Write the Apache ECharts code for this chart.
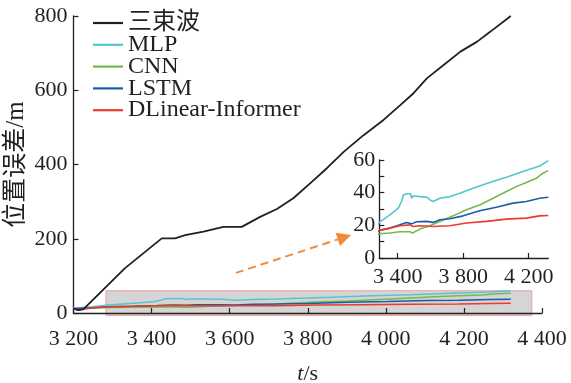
<!DOCTYPE html>
<html><head><meta charset="utf-8">
<script src="https://cdn.jsdelivr.net/npm/echarts@6/dist/echarts.min.js"></script>
<style>html,body{margin:0;padding:0;background:#fff}#c{width:571px;height:383px}</style>
</head><body><div id="c"></div>
<script>
// ---- data ----
const seriesNames = ['三束波', 'MLP', 'CNN', 'LSTM', 'DLinear-Informer'];
const blackT = [3200,3212,3225,3332,3426,3460,3486,3533,3584,3631,3678,3721,3763,3806,3849,3892,3943,3994,4037,4071,4105,4148,4191,4234,4268,4320];
const blackV = [12,8,10,121,201,201,210,219,232,232,259,280,309,349,390,434,479,520,560,592,632,668,704,731,758,800];
const mlpT = [3200,3250,3288,3353,3404,3424,3435,3455,3479,3485,3495,3536,3581,3597,3617,3658,3719,3780,3861,3962,4064,4165,4267,4320];
const mlpV = [13,17,21.8,26.4,30.5,34.6,38.6,39.3,39.3,36.6,38.0,37.6,37.2,35.6,34.6,36.6,37.6,39.7,42.7,46.2,49.4,52.9,56.3,59.6];
const cnnT = [3200,3250,3288,3353,3414,3475,3491,3536,3597,3658,3739,3820,3901,3983,4064,4125,4186,4247,4287,4320];
const cnnV = [11,13,14.8,15.3,16.1,16.1,15.3,17.7,19.7,22.4,25.8,29.5,32.5,36.6,40.7,43.7,46.2,48.8,51.9,53.5];
const lstmT = [3200,3250,3288,3353,3414,3455,3485,3516,3577,3617,3658,3719,3800,3901,4003,4105,4186,4267,4320];
const lstmV = [12,14,16.9,18.3,20.3,21.8,20.9,22.2,22.4,21.8,23.4,24.0,25.8,28.9,31.1,33.6,34.6,36.6,37.2];
const dliT = [3200,3212,3250,3288,3353,3414,3475,3495,3536,3617,3719,3820,3942,4064,4186,4267,4320];
const dliV = [12,9,14,16.9,18.3,19.7,20.3,19.3,19.7,19.3,19.7,21.4,22.4,23.8,24.4,25.8,26.0];
const mainXTicks = [3200, 4400, 200];
const mainYTicks = [0, 800, 200];
const insetXLabels = [3400, 3800, 4200];
const insetYTicks = [0,10,20,30,40,50,60];
const insetYLabels = [0,20,40,60];
// zoom box & arrow (data coords of main axes)
const boxCorners = [[3283, 60], [4374, -7]];
const arrowEnds = [[3616, 108], [3911, 210]];

// ---- chart ----
const pair = (t, v) => t.map((x, i) => [x, v[i]]);
const colors = ['#231f20', '#56c5d0', '#77b94a', '#1a5cab', '#ee3a2c'];
const dataSets = [pair(blackT, blackV), pair(mlpT, mlpV), pair(cnnT, cnnV), pair(lstmT, lstmV), pair(dliT, dliV)];
const FONT = '"Liberation Serif", "Noto Sans CJK SC", serif';
const fmt = v => { const s = String(v); return s.length > 3 ? s.slice(0, s.length - 3) + ' ' + s.slice(-3) : s; };

const series = [];
seriesNames.forEach((n, i) => {
  series.push({ name: n, type: 'line', xAxisIndex: 0, yAxisIndex: 0, data: dataSets[i], symbol: 'none',
    lineStyle: { color: colors[i], width: i === 0 ? 1.8 : 1.5 }, itemStyle: { color: colors[i] }, z: i === 0 ? 3 : 2 });
});
seriesNames.slice(1).forEach((n, j) => {
  const i = j + 1;
  series.push({ name: n, type: 'line', xAxisIndex: 1, yAxisIndex: 1, data: dataSets[i], symbol: 'none', clip: true,
    lineStyle: { color: colors[i], width: 1.6 }, itemStyle: { color: colors[i] } });
});

const axisCommon = {
  axisLine: { lineStyle: { color: '#231f20', width: 1.3 } },
  axisTick: { inside: true, length: 5, lineStyle: { color: '#231f20', width: 1.2 } },
  splitLine: { show: false },
};

const chart = echarts.init(document.getElementById('c'));
chart.setOption({
  animation: false,
  textStyle: { fontFamily: FONT },
  legend: {
    data: seriesNames, orient: 'vertical', left: 93, top: 11, padding: 0, itemWidth: 30, itemHeight: 2.2, itemGap: -2.2,
    textStyle: { fontFamily: FONT, fontSize: 24, color: '#231f20', lineHeight: 21 },
    icon: 'rect',
  },
  grid: [
    { left: 73.5, right: 29, top: 16, bottom: 70, outerBoundsMode: 'none', containLabel: false },
    { left: 379.3, right: 22.7, top: 160, bottom: 125, outerBoundsMode: 'none', containLabel: false },
  ],
  xAxis: [
    Object.assign({}, axisCommon, { type: 'value', gridIndex: 0, min: mainXTicks[0], max: mainXTicks[1], interval: mainXTicks[2],
      name: '{i|t}/s', nameLocation: 'middle', nameGap: 50, nameMoveOverlap: false,
      nameTextStyle: { fontFamily: FONT, fontSize: 22, color: '#231f20', rich: { i: { fontStyle: 'italic', fontFamily: FONT, fontSize: 22, color: '#231f20' } } },
      axisLabel: { fontFamily: FONT, fontSize: 22, color: '#231f20', margin: 15, formatter: fmt } }),
    Object.assign({}, axisCommon, { type: 'value', gridIndex: 1, min: 3288, max: 4320,
      axisTick: { inside: true, length: 5, customValues: insetXLabels, lineStyle: { color: '#231f20', width: 1.2 } },
      axisLabel: { fontFamily: FONT, fontSize: 22, color: '#231f20', margin: 8, customValues: insetXLabels, formatter: fmt } }),
  ],
  yAxis: [
    Object.assign({}, axisCommon, { type: 'value', gridIndex: 0, min: mainYTicks[0], max: mainYTicks[1], interval: mainYTicks[2],
      name: '位置误差/m', nameLocation: 'middle', nameGap: 45, nameMoveOverlap: false,
      nameTextStyle: { fontFamily: FONT, fontSize: 25, color: '#231f20' },
      axisLabel: { fontFamily: FONT, fontSize: 22, color: '#231f20', margin: 6 } }),
    Object.assign({}, axisCommon, { type: 'value', gridIndex: 1, min: 0, max: 60,
      axisTick: { inside: true, length: 5, customValues: insetYTicks, lineStyle: { color: '#231f20', width: 1.2 } },
      axisLabel: { fontFamily: FONT, fontSize: 22, color: '#231f20', margin: 4, customValues: insetYLabels } }),
  ],
  series: series,
});

// annotations positioned via the main axes
const p0 = chart.convertToPixel({ gridIndex: 0 }, boxCorners[0]);
const p1 = chart.convertToPixel({ gridIndex: 0 }, boxCorners[1]);
const a0 = chart.convertToPixel({ gridIndex: 0 }, arrowEnds[0]);
const a1 = chart.convertToPixel({ gridIndex: 0 }, arrowEnds[1]);
const dx = a1[0] - a0[0], dy = a1[1] - a0[1], L = Math.hypot(dx, dy);
const ux = dx / L, uy = dy / L, hl = 14, hw = 7;
const base = [a1[0] - ux * hl, a1[1] - uy * hl];
chart.setOption({
  graphic: [
    { type: 'rect', z: -1, silent: true,
      shape: { x: p0[0], y: p0[1], width: p1[0] - p0[0], height: p1[1] - p0[1] },
      style: { fill: '#d5d5d5', stroke: '#f2a0a0', lineWidth: 1 } },
    { type: 'line', silent: true, shape: { x1: a0[0], y1: a0[1], x2: base[0], y2: base[1] },
      style: { stroke: '#f08a3c', lineWidth: 2, lineDash: [8, 5] } },
    { type: 'polygon', silent: true,
      shape: { points: [a1, [base[0] - uy * hw, base[1] + ux * hw], [base[0] + uy * hw, base[1] - ux * hw]] },
      style: { fill: '#f08a3c' } },
  ]
});
</script></body></html>
